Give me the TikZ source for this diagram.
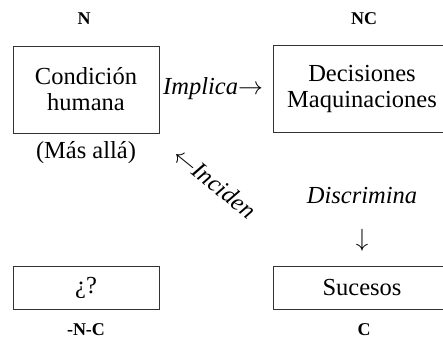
\documentclass[tikz,border=0pt]{standalone}
\usepackage{fontspec}
\setmainfont{Liberation Serif}
\newcommand{\mainsize}{\fontsize{24.5}{26}\selectfont}
\newcommand{\tagsize}{\fontsize{18}{20}\selectfont\bfseries}
\begin{document}
\begin{tikzpicture}[x=1pt,y=1pt,
  box/.style={draw=black!80, line width=0.8pt, inner sep=0pt, align=center, font=\mainsize},
  wide/.style={minimum width=146pt},
  wider/.style={minimum width=178pt},
  tall/.style={minimum height=87pt},
  short/.style={minimum height=42.5pt},
  tag/.style={inner sep=0pt, anchor=base, font=\tagsize},
  word/.style={inner sep=0pt, font=\mainsize}]
\useasboundingbox (0,0) rectangle (443,-338);

% the four boxes
\node[box, wide, tall]   (cond) at (86,-89.5)   {Condición\\humana};
\node[box, wider, tall]  (deci) at (362,-88.5)  {Decisiones\\Maquinaciones};
\node[box, wide, short]  (unkn) at (86,-287.75) {¿?};
\node[box, wider, short] (suce) at (362,-287.75) {Sucesos};

% corner tags
\node[tag] (tN)   at (84,-24.3)  {N};
\node[tag] (tNC)  at (364,-24.3) {NC};
\node[tag] (tNNC) at (86,-335)   {-N-C};
\node[tag] (tC)   at (364,-335)  {C};

% relations written between the boxes
\node[word, anchor=base west] (impl) at (163,-94.3) {\itshape Implica$\rightarrow$};
\node[word, anchor=base] (mas)  at (86,-158)   {(Más allá)};
\node[word, anchor=base] (disc) at (362,-203) {\itshape Discrimina};
\node[word, anchor=center] (down) at (362,-240) {$\downarrow$};
\node[word, anchor=base west, rotate=-39] (inci) at (171,-158) {$\leftarrow$\itshape Inciden};
\end{tikzpicture}
\end{document}
